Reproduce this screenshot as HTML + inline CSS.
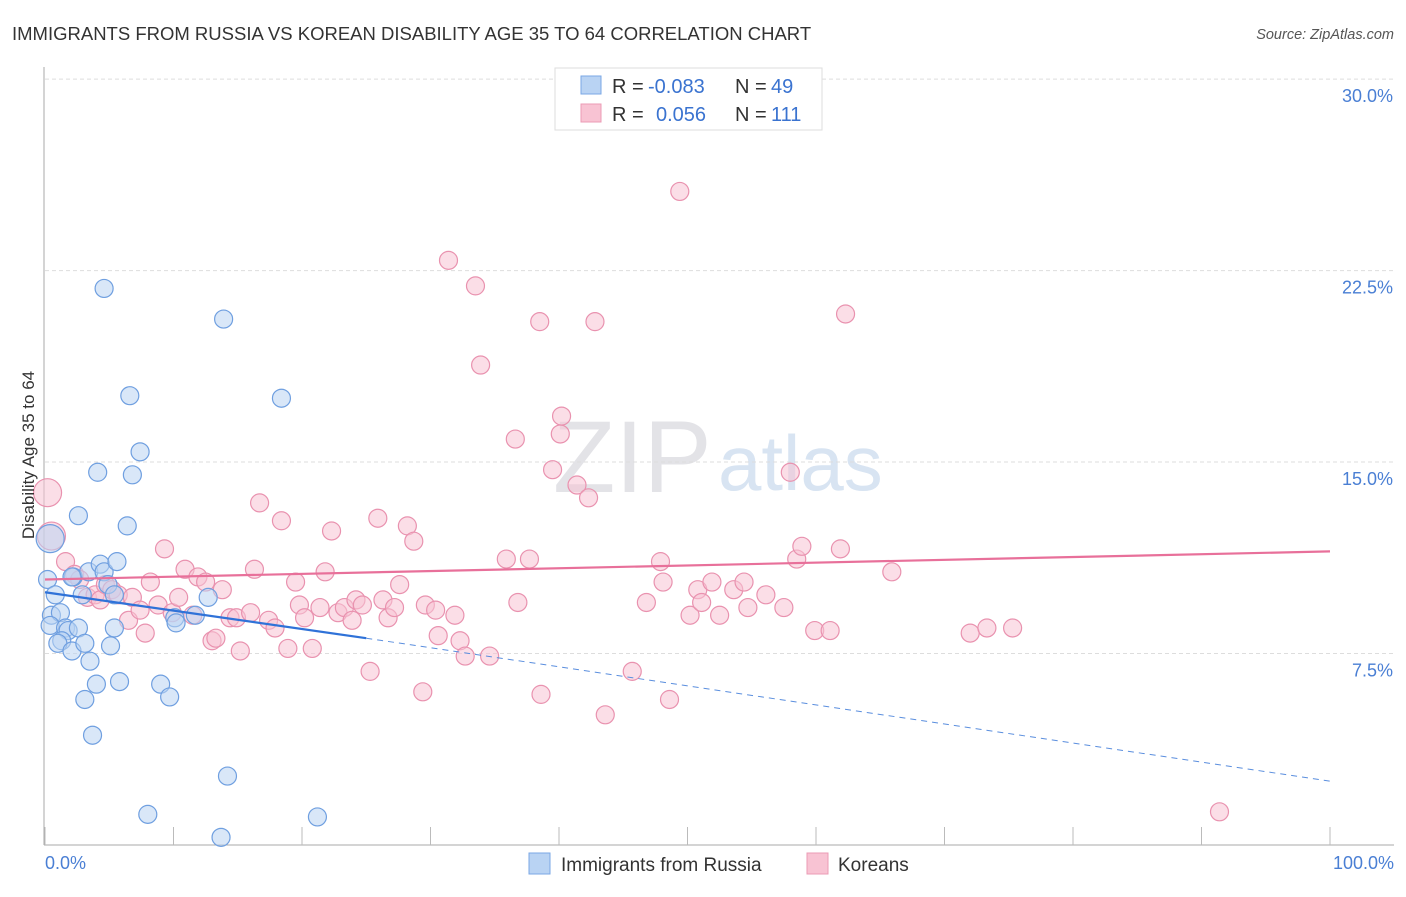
<!DOCTYPE html>
<html><head><meta charset="utf-8"><style>
body{margin:0;background:#fff;font-family:"Liberation Sans",sans-serif;}
svg text{font-family:"Liberation Sans",sans-serif;}
</style></head><body>
<svg width="1406" height="892" viewBox="0 0 1406 892" id="chart">
<text x="12" y="40" font-size="18.5" fill="#333">IMMIGRANTS FROM RUSSIA VS KOREAN DISABILITY AGE 35 TO 64 CORRELATION CHART</text>
<text x="1394" y="39" font-size="14.5" fill="#555" font-style="italic" text-anchor="end">Source: ZipAtlas.com</text>
<text x="553" y="492" font-size="102" fill="#e3e3e7" font-family="Liberation Serif">ZIP</text>
<text x="718" y="490" font-size="78" fill="#d8e4f2">atlas</text>
<g id="grid"></g>
<g id="axes"></g>
<g id="pts"></g>
<g id="trend"></g>
<text transform="translate(34,455) rotate(-90)" font-size="17" fill="#333" text-anchor="middle">Disability Age 35 to 64</text>
<text x="45" y="869" font-size="18" fill="#4a7fd4">0.0%</text>
<text x="1394" y="869" font-size="18" fill="#4a7fd4" text-anchor="end">100.0%</text>
<g>
<rect x="555" y="68" width="267" height="62" fill="#fff" stroke="#ddd"/>
<rect x="581" y="76" width="20" height="18" fill="#b9d3f3" stroke="#7aa7e4"/>
<rect x="581" y="104" width="20" height="18" fill="#f8c3d3" stroke="#eb9bb5"/>
<text y="93" font-size="20" fill="#333"><tspan x="612">R =</tspan><tspan x="648" fill="#3a73d0">-0.083</tspan><tspan x="735">N =</tspan><tspan x="771" fill="#3a73d0">49</tspan></text>
<text y="121" font-size="20" fill="#333"><tspan x="612">R =</tspan><tspan x="656" fill="#3a73d0">0.056</tspan><tspan x="735">N =</tspan><tspan x="771" fill="#3a73d0">111</tspan></text>
</g>
<g>
<rect x="529" y="853" width="21" height="21" fill="#b9d3f3" stroke="#7aa7e4"/>
<text x="561" y="871" font-size="19" fill="#333">Immigrants from Russia</text>
<rect x="807" y="853" width="21" height="21" fill="#f8c3d3" stroke="#eb9bb5"/>
<text x="838" y="871" font-size="19" fill="#333">Koreans</text>
</g>
</svg>
<script>
const yTicks=[7.5,15,22.5,30];
const yTickLabels=["7.5%","15.0%","22.5%","30.0%"];
const xTicks=[0,10,20,30,40,50,60,70,80,90,100];
const russiaX=[0.4,0.2,0.8,0.5,1.2,0.4,1.6,1.8,1.3,1.0,2.1,2.6,3.1,3.5,2.2,2.6,2.9,3.4,4.3,4.6,4.9,5.4,5.6,5.4,5.1,4.0,3.1,3.7,5.8,4.1,6.8,7.4,6.4,6.6,4.6,13.9,18.4,10.1,10.2,11.7,12.7,9.0,9.7,14.2,8.0,13.7,21.2,2.1];
const russiaY=[12.0,10.4,9.8,9.0,9.1,8.6,8.5,8.4,8.0,7.9,7.6,8.5,7.9,7.2,10.5,12.9,9.8,10.7,11.0,10.7,10.2,9.8,11.1,8.5,7.8,6.3,5.7,4.3,6.4,14.6,14.5,15.4,12.5,17.6,21.8,20.6,17.5,8.9,8.7,9.0,9.7,6.3,5.8,2.7,1.2,0.3,1.1,10.5];
const koreaX=[0.2,0.5,1.6,2.3,2.7,3.3,3.9,4.3,4.7,5.2,5.7,6.5,6.8,7.4,7.8,8.2,8.8,9.3,9.9,10.4,10.9,11.5,11.9,12.5,13.0,13.3,13.8,14.4,14.9,15.2,16.0,16.3,16.7,17.4,17.9,18.4,18.9,19.5,19.8,20.2,20.8,21.4,21.8,22.3,22.8,23.3,23.9,24.2,24.7,25.3,25.9,26.3,26.7,27.2,27.6,28.2,28.7,29.4,29.6,30.4,30.6,31.4,31.9,32.3,32.7,33.5,33.9,34.6,35.9,36.6,36.8,37.7,38.5,38.6,39.5,40.1,40.2,41.4,42.3,42.8,43.6,45.7,46.8,47.9,48.1,48.6,49.4,50.2,50.8,51.1,51.9,52.5,53.6,54.4,54.7,56.1,57.5,58.0,58.5,58.9,59.9,61.1,61.9,62.3,65.9,72.0,73.3,75.3,91.4];
const koreaY=[13.8,12.1,11.1,10.6,10.4,9.7,9.8,9.6,10.2,10.0,9.8,8.8,9.7,9.2,8.3,10.3,9.4,11.6,9.1,9.7,10.8,9.0,10.5,10.3,8.0,8.1,10.0,8.9,8.9,7.6,9.1,10.8,13.4,8.8,8.5,12.7,7.7,10.3,9.4,8.9,7.7,9.3,10.7,12.3,9.1,9.3,8.8,9.6,9.4,6.8,12.8,9.6,8.9,9.3,10.2,12.5,11.9,6.0,9.4,9.2,8.2,22.9,9.0,8.0,7.4,21.9,18.8,7.4,11.2,15.9,9.5,11.2,20.5,5.9,14.7,16.1,16.8,14.1,13.6,20.5,5.1,6.8,9.5,11.1,10.3,5.7,25.6,9.0,10.0,9.5,10.3,9.0,10.0,10.3,9.3,9.8,9.3,14.6,11.2,11.7,8.4,8.4,11.6,20.8,10.7,8.3,8.5,8.5,1.3];
const russiaTrend=[[0,9.9],[25,8.1]],russiaTrendExt=[[25,8.1],[100,2.5]];
const koreaTrend=[[0,10.4],[100,11.5]];
const NS="http://www.w3.org/2000/svg";
const xs=v=>45+v*12.85, ys=v=>845-v*25.53;
function mk(tag,attrs,parent){const e=document.createElementNS(NS,tag);for(const k in attrs)e.setAttribute(k,attrs[k]);document.getElementById(parent).appendChild(e);return e;}
yTicks.forEach((t,i)=>{
 const l=mk('line',{x1:45,x2:1394,y1:ys(t),y2:ys(t),stroke:'#ddd','stroke-dasharray':'4,3'},'grid');
 
 
 const tx=mk('text',{x:1393,y:ys(t)+23,'font-size':18,fill:'#4a7fd4','text-anchor':'end'},'grid');
 tx.textContent=yTickLabels[i];
 
 
});
const ax=mk('line',{x1:44,x2:44,y1:67,y2:845,stroke:'#aaa'},'axes');


const bx=mk('line',{x1:44,x2:1394,y1:845,y2:845,stroke:'#aaa'},'axes');


xTicks.forEach(t=>{const l=mk('line',{x1:xs(t),x2:xs(t),y1:827,y2:845,stroke:'#bbb'},'axes');
 
 });
function dots(X,Y,fill,stroke,name){X.forEach((x,i)=>{
 const r=(x<1&&Y[i]>11.5)?14:9;
 const c=mk('circle',{cx:xs(x),cy:ys(Y[i]),r:r,fill:fill,'fill-opacity':0.55,stroke:stroke,'stroke-width':1.2},'pts');
 
 });}
dots(koreaX,koreaY,'#f8c3d3','#e992af','korean-point');
dots(russiaX,russiaY,'#b9d3f3','#6f9fe0','russia-point');
function line(p,stroke,w,dash,name){const l=mk('line',{x1:xs(p[0][0]),y1:ys(p[0][1]),x2:xs(p[1][0]),y2:ys(p[1][1]),stroke:stroke,'stroke-width':w},'trend');
 if(dash)l.setAttribute('stroke-dasharray',dash);
 
 }
line(russiaTrend,'#2f72d8',2.2,null,'russia-trend');
line(russiaTrendExt,'#5a8ede',1,'6,5','russia-trend-extension');
line(koreaTrend,'#e8709a',2.2,null,'korean-trend');
</script>
</body></html>
